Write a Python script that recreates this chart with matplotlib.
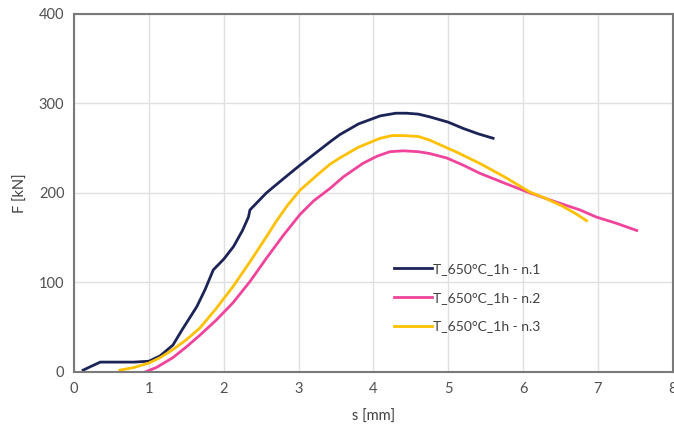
import matplotlib.pyplot as plt

plt.rcParams['font.family'] = ['Lato', 'DejaVu Sans']

# curve 1 (navy)
s1 = [0.12, 0.22, 0.35, 0.6, 0.8, 1.0, 1.15, 1.32, 1.45, 1.64, 1.75, 1.86, 2.0, 2.13, 2.25, 2.33, 2.35,
      2.57, 2.8, 3.02, 3.25, 3.42, 3.55, 3.8, 4.09, 4.3, 4.44, 4.6, 4.75, 5.0, 5.2, 5.4, 5.6]
f1 = [2, 6, 11, 11, 11, 12, 18, 30, 48, 73, 92, 114, 126, 140, 158, 173, 181,
      200, 216, 231, 246, 257, 265, 277, 286, 289, 289, 288, 285, 279, 272, 266, 261]

# curve 2 (pink)
s2 = [0.95, 1.1, 1.32, 1.5, 1.68, 1.9, 2.12, 2.35, 2.57, 2.8, 3.02, 3.2, 3.42, 3.6, 3.86, 4.05, 4.22, 4.4,
      4.6, 4.75, 4.98, 5.2, 5.42, 5.75, 6.09, 6.4, 6.76, 6.98, 7.25, 7.52]
f2 = [0, 5, 16, 28, 41, 58, 77, 101, 127, 153, 176, 191, 205, 218, 233, 241, 246, 247,
      246, 244, 239, 231, 222, 211, 200, 191, 181, 173, 166, 158]

# curve 3 (yellow)
s3 = [0.61, 0.8, 1.0, 1.15, 1.32, 1.5, 1.68, 1.9, 2.12, 2.35, 2.57, 2.7, 2.85, 3.02, 3.25, 3.42, 3.55, 3.8,
      4.09, 4.25, 4.4, 4.6, 4.75, 5.1, 5.42, 5.75, 6.09, 6.3, 6.53, 6.7, 6.85]
f3 = [2, 5, 10, 16, 25, 36, 49, 71, 95, 123, 151, 168, 186, 203, 220, 232, 239, 251,
      261, 264, 264, 263, 259, 246, 233, 218, 201, 194, 185, 177, 169]

labels = ['T_650°C_1h - n.1', 'T_650°C_1h - n.2', 'T_650°C_1h - n.3']
colors = ['#1c2357', '#f0449c', '#ffc000']

fig = plt.figure(figsize=(6.74, 4.32), dpi=100)
ax = fig.add_axes([0.110, 0.139, 0.888, 0.829])

for s, f, lab, c in zip([s1, s2, s3], [f1, f2, f3], labels, colors):
    ax.plot(s, f, color=c, lw=2, label=lab)

ax.set_xlim(0, 8)
ax.set_ylim(0, 400)
ax.set_xticks(range(0, 9))
ax.set_yticks(range(0, 401, 100))
ax.grid(True, color='#e0e0e0', lw=1)
ax.set_axisbelow(True)
ax.tick_params(length=0, labelsize=10.5, labelcolor='#505050', pad=7)
for sp in ax.spines.values():
    sp.set_color('#7a7a7a')
    sp.set_linewidth(1.5)

ax.set_xlabel('s [mm]', fontsize=10.5, color='#404040', labelpad=10)
ax.set_ylabel('F [kN]', fontsize=10.5, color='#404040', labelpad=8)

ax.legend(loc='center left', bbox_to_anchor=(0.514, 0.207), frameon=False, fontsize=10,
          handlelength=2.7, handletextpad=0.1, labelspacing=1.2, labelcolor='#404040')

fig.savefig('out.png', dpi=100)
